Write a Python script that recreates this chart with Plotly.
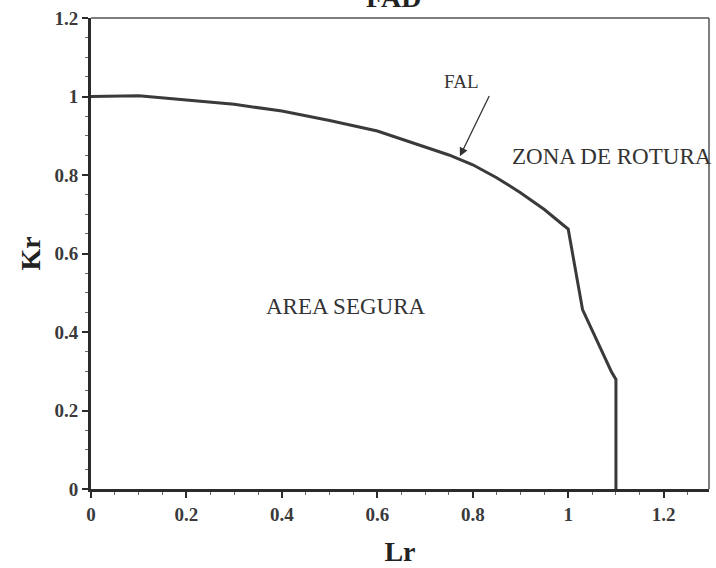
import plotly.graph_objects as go

# FAL curve
lr = [0.0, 0.1, 0.2, 0.3, 0.4, 0.5, 0.6, 0.65, 0.7, 0.75, 0.8, 0.85, 0.9, 0.95, 0.99, 1.0,
      1.03, 1.06, 1.09, 1.1, 1.1]
kr = [1.0, 1.002, 0.991, 0.98, 0.963, 0.939, 0.912, 0.891, 0.871, 0.851, 0.826, 0.793,
      0.755, 0.712, 0.672, 0.662, 0.457, 0.38, 0.30, 0.279, 0.0]

x_ticks = [0, 0.2, 0.4, 0.6, 0.8, 1.0, 1.2]
x_labels = ["0", "0.2", "0.4", "0.6", "0.8", "1", "1.2"]
y_ticks = [0, 0.2, 0.4, 0.6, 0.8, 1.0, 1.2]
y_labels = ["0", "0.2", "0.4", "0.6", "0.8", "1", "1.2"]

SERIF = "Liberation Serif, Times New Roman, serif"
INK = "#2b2b2b"

fig = go.Figure()
fig.add_trace(go.Scatter(x=lr, y=kr, mode="lines",
                         line=dict(color="#3a3a3a", width=3),
                         showlegend=False, hoverinfo="skip"))

axis_common = dict(showgrid=False, zeroline=False, showline=True,
                   linecolor=INK, linewidth=3, ticks="outside", ticklen=6,
                   tickwidth=1.5, tickcolor=INK,
                   tickfont=dict(family=SERIF, size=19, color="#3a3a3a", weight="bold"),
                   minor=dict(ticks="outside", ticklen=3, tickwidth=1,
                              tickcolor="#666", dtick=0.05))

fig.update_xaxes(range=[0, 1.295], tickvals=x_ticks, ticktext=x_labels,
                 title=dict(text="<b>Lr</b>", font=dict(family=SERIF, size=28, color="#222"),
                            standoff=18),
                 **axis_common)
fig.update_yaxes(range=[0, 1.2], tickvals=y_ticks, ticktext=y_labels,
                 title=dict(text="<b>Kr</b>", font=dict(family=SERIF, size=28, color="#222"),
                            standoff=6),
                 **axis_common)

# thinner top/right frame
fig.add_shape(type="line", xref="paper", yref="paper", x0=0, x1=1, y0=1, y1=1,
              line=dict(color="#555", width=1.5))
fig.add_shape(type="line", xref="paper", yref="paper", x0=1, x1=1, y0=0, y1=1,
              line=dict(color="#555", width=1.5))

# title (mostly cut off at top, as in the reference)
fig.add_annotation(text="<b>FAD</b>", xref="paper", yref="paper", x=0.49, y=1,
                   yanchor="bottom", yshift=3, showarrow=False,
                   font=dict(family=SERIF, size=28, color="#222"))

# labels
fig.add_annotation(text="FAL", x=0.776, y=1.039, showarrow=False,
                   font=dict(family=SERIF, size=19, color="#333"))
fig.add_annotation(text="", x=0.773, y=0.848, ax=0.836, ay=1.005,
                   axref="x", ayref="y", showarrow=True, arrowhead=2,
                   arrowsize=1.3, arrowwidth=1.3, arrowcolor="#333")
fig.add_annotation(text="ZONA DE ROTURA", x=1.092, y=0.848, showarrow=False,
                   font=dict(family=SERIF, size=23, color="#333"))
fig.add_annotation(text="AREA SEGURA", x=0.534, y=0.466, showarrow=False,
                   font=dict(family=SERIF, size=23, color="#333"))

fig.update_layout(width=716, height=568, paper_bgcolor="white", plot_bgcolor="white",
                  margin=dict(l=91, r=7, t=18, b=79), showlegend=False)

fig.write_html("out.html")
